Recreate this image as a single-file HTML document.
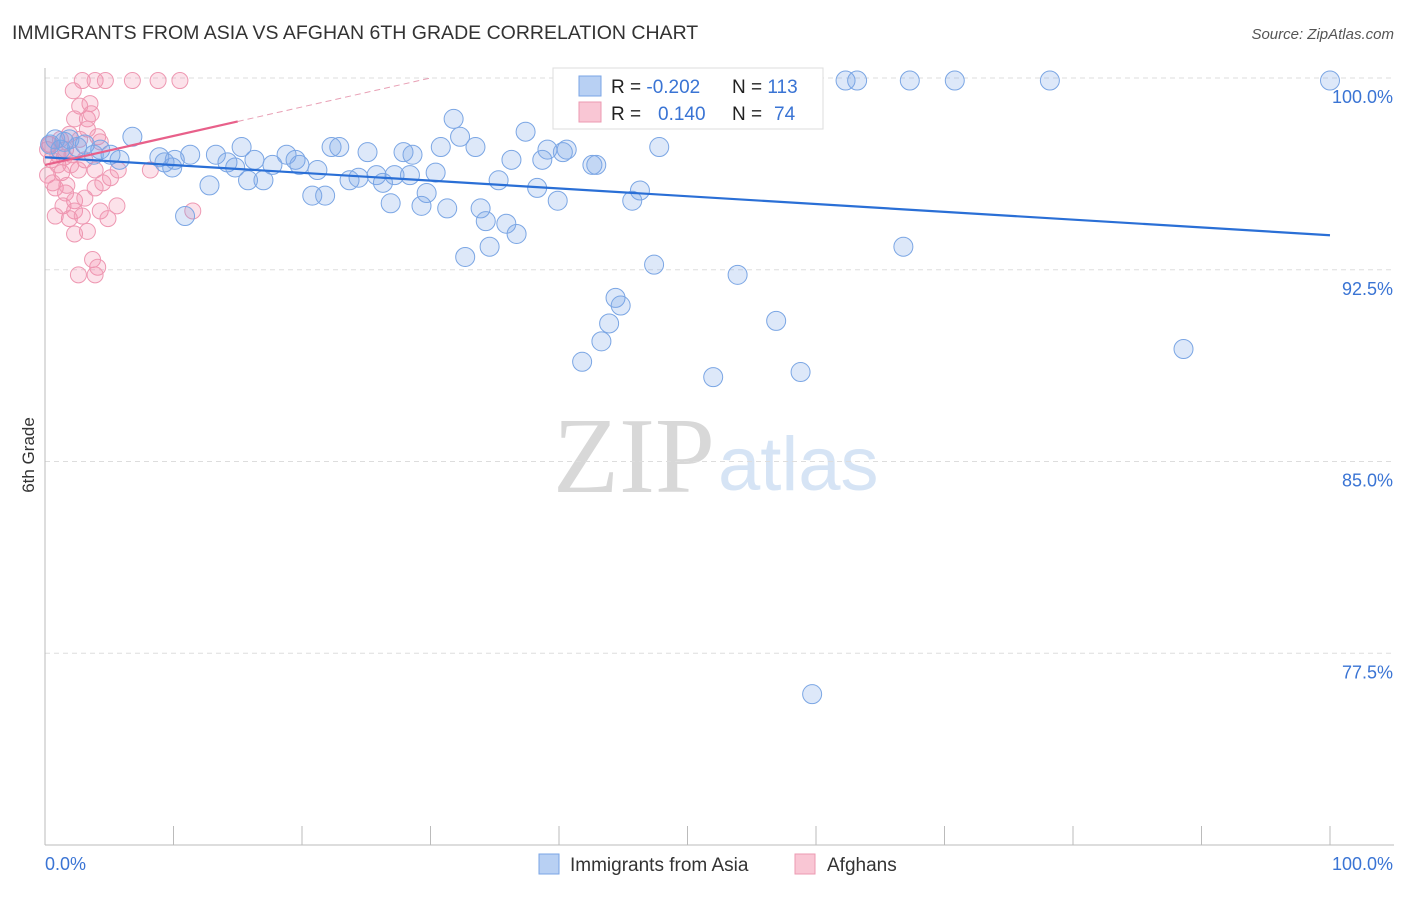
<!DOCTYPE html>
<html><head><meta charset="utf-8"><style>
body{margin:0;background:#fff;font-family:"Liberation Sans",sans-serif;}
</style></head><body>
<svg id="chart" width="1406" height="892" style="font-family:'Liberation Sans',sans-serif">
<text x="12" y="39" font-size="19.5" fill="#333">IMMIGRANTS FROM ASIA VS AFGHAN 6TH GRADE CORRELATION CHART</text>
<text x="1394" y="39" font-size="15" fill="#555" text-anchor="end" font-style="italic">Source: ZipAtlas.com</text>
<text x="34" y="455" font-size="17" fill="#333" transform="rotate(-90 34 455)" text-anchor="middle">6th Grade</text>
<text x="715" y="492" font-size="108" fill="#d8d8d8" text-anchor="end" style="font-family:'Liberation Serif',serif">ZIP</text>
<text x="718" y="490" font-size="76" fill="#d6e4f5">atlas</text>
<g id="grid"></g><g id="axes"></g><g id="pts"></g><g id="trends"></g>
<g>
<rect x="553" y="68" width="270" height="61" fill="#fff" stroke="#ddd"/>
<rect x="579" y="76" width="22" height="20" fill="#b8d0f3" stroke="#7aa5e6"/>
<rect x="579" y="102" width="22" height="20" fill="#f9c6d4" stroke="#ec9ab2"/>
<text x="611" y="93" font-size="19" fill="#222">R = <tspan fill="#3a74d4">-0.202</tspan></text>
<text x="732" y="93" font-size="19" fill="#222">N = <tspan fill="#3a74d4">113</tspan></text>
<text x="611" y="120" font-size="19" fill="#222">R = <tspan fill="#3a74d4" x="658">0.140</tspan></text>
<text x="732" y="120" font-size="19" fill="#222">N = <tspan fill="#3a74d4" x="774">74</tspan></text>
</g>
<g>
<rect x="539" y="854" width="20" height="20" fill="#b8d0f3" stroke="#7aa5e6"/>
<text x="570" y="871" font-size="19" fill="#333">Immigrants from Asia</text>
<rect x="795" y="854" width="20" height="20" fill="#f9c6d4" stroke="#ec9ab2"/>
<text x="827" y="871" font-size="19" fill="#333">Afghans</text>
</g>
</svg>
<script>
const yTicks=[100,92.5,85,77.5];
const yTickLabels=["100.0%","92.5%","85.0%","77.5%"];
const xTickLabels=["0.0%","100.0%"];
const blueX=[100,62.3,63.2,67.3,70.8,78.2,53.2,45.1,50.2,31.8,37.4,32.3,30.8,33.5,22.9,22.3,47.8,15.3,6.8,25.1,27.9,28.6,39.1,40.6,40.3,42.6,42.9,36.3,38.7,18.8,13.3,11.3,8.9,10.1,9.3,5.8,5.1,4.3,3.1,1.9,0.8,1.2,0.4,14.2,14.8,16.3,17.7,19.5,19.8,21.2,23.7,24.4,25.8,26.3,27.2,28.4,30.4,17.0,15.8,12.8,9.9,35.3,38.3,46.3,29.7,20.8,21.8,26.9,29.3,31.3,33.9,34.3,35.9,36.7,39.9,45.7,10.9,66.8,34.6,32.7,47.4,53.9,44.4,44.8,43.9,56.9,43.3,41.8,52.0,58.8,88.6,59.7,2.5,3.8,1.5];
const blueY=[99.9,99.9,99.9,99.9,99.9,99.9,99.9,99.0,98.4,98.4,97.9,97.7,97.3,97.3,97.3,97.3,97.3,97.3,97.7,97.1,97.1,97.0,97.2,97.2,97.1,96.6,96.6,96.8,96.8,97.0,97.0,97.0,96.9,96.8,96.7,96.8,97.0,97.2,97.4,97.6,97.6,97.2,97.4,96.7,96.5,96.8,96.6,96.8,96.6,96.4,96.0,96.1,96.2,95.9,96.2,96.2,96.3,96.0,96.0,95.8,96.5,96.0,95.7,95.6,95.5,95.4,95.4,95.1,95.0,94.9,94.9,94.4,94.3,93.9,95.2,95.2,94.6,93.4,93.4,93.0,92.7,92.3,91.4,91.1,90.4,90.5,89.7,88.9,88.3,88.5,89.4,75.9,97.3,97.0,97.5];
const pinkX=[2.9,3.9,4.7,6.8,8.8,10.5,2.2,3.5,2.7,3.3,3.6,2.3,3.3,4.1,4.3,0.4,3.1,2.6,3.9,5.7,5.1,4.5,8.2,0.8,1.6,2.3,3.1,3.9,1.4,2.3,0.8,1.9,2.9,4.3,5.6,4.9,3.3,2.3,11.5,3.7,4.1,2.6,3.9,0.2,0.5,1.0,1.3,0.2,0.6,1.7,1.2,1.6,2.1,1.9,2.7,0.3,1.0,1.5,2.0];
const pinkY=[99.9,99.9,99.9,99.9,99.9,99.9,99.5,99.0,98.9,98.4,98.6,98.4,98.0,97.7,97.5,97.4,96.8,96.4,96.4,96.4,96.1,95.9,96.4,95.7,95.5,95.2,95.3,95.7,95.0,94.8,94.6,94.5,94.6,94.8,95.0,94.5,94.0,93.9,94.8,92.9,92.6,92.3,92.3,97.2,96.8,96.6,96.3,96.2,95.9,95.8,97.6,97.2,97.0,97.8,97.6,97.4,97.0,96.9,96.6];
const blueTrend=[96.9,93.85];
const pinkTrend=[96.6,98.3];
const pinkTrendEnd=15;
const X0=45,X1=1330,YT=78,YB=845;
const xs=v=>X0+(X1-X0)*v/100;
const ys=v=>YT+(100-v)*(YB-YT)/30;
const NS="http://www.w3.org/2000/svg";
function mk(tag,attrs,parent){const e=document.createElementNS(NS,tag);for(const k in attrs)e.setAttribute(k,attrs[k]);document.getElementById(parent).appendChild(e);return e;}
yTicks.forEach((t,i)=>{
 const l=mk('line',{x1:X0,x2:1394,y1:ys(t),y2:ys(t),stroke:'#ddd','stroke-dasharray':'5,4'},'grid');
 
 
 const tx=mk('text',{x:1393,y:ys(t)+25,'font-size':18,fill:'#3a74d4','text-anchor':'end'},'grid');
 tx.textContent=yTickLabels[i];
 
 
});
const ax=mk('line',{x1:X0,x2:X0,y1:68,y2:YB,stroke:'#bbb'},'axes');


const bx=mk('line',{x1:X0,x2:1394,y1:YB,y2:YB,stroke:'#bbb'},'axes');


for(let i=0;i<=10;i++){const t=mk('line',{x1:xs(i*10),x2:xs(i*10),y1:826,y2:YB,stroke:'#bbb'},'axes');
 
 }
[[0,'start',45],[100,'end',1393]].forEach(([v,a,x],i)=>{const t=mk('text',{x:x,y:870,'font-size':18,fill:'#3a74d4','text-anchor':a},'axes');t.textContent=xTickLabels[i];
 
 });
pinkX.forEach((x,i)=>{const c=mk('circle',{cx:xs(x),cy:ys(pinkY[i]),r:8,fill:'rgba(242,140,170,0.25)',stroke:'#ee98b2','stroke-width':1},'pts');
 
 });
blueX.forEach((x,i)=>{const c=mk('circle',{cx:xs(x),cy:ys(blueY[i]),r:9.5,fill:'rgba(120,165,232,0.25)',stroke:'#7ba6e4','stroke-width':1},'pts');
 
 });
const bl=mk('line',{x1:xs(0),y1:ys(blueTrend[0]),x2:xs(100),y2:ys(blueTrend[1]),stroke:'#2a6fd6','stroke-width':2.2},'trends');


const slope=(pinkTrend[1]-pinkTrend[0])/pinkTrendEnd;
const pl=mk('line',{x1:xs(0),y1:ys(pinkTrend[0]),x2:xs(pinkTrendEnd),y2:ys(pinkTrend[1]),stroke:'#e8608a','stroke-width':2.2},'trends');


const xe=pinkTrendEnd+(100-pinkTrend[1])/slope;
const pd=mk('line',{x1:xs(pinkTrendEnd),y1:ys(pinkTrend[1]),x2:xs(xe),y2:ys(100),stroke:'#e8a0b5','stroke-width':1,'stroke-dasharray':'6,4'},'trends');


</script>
</body></html>
